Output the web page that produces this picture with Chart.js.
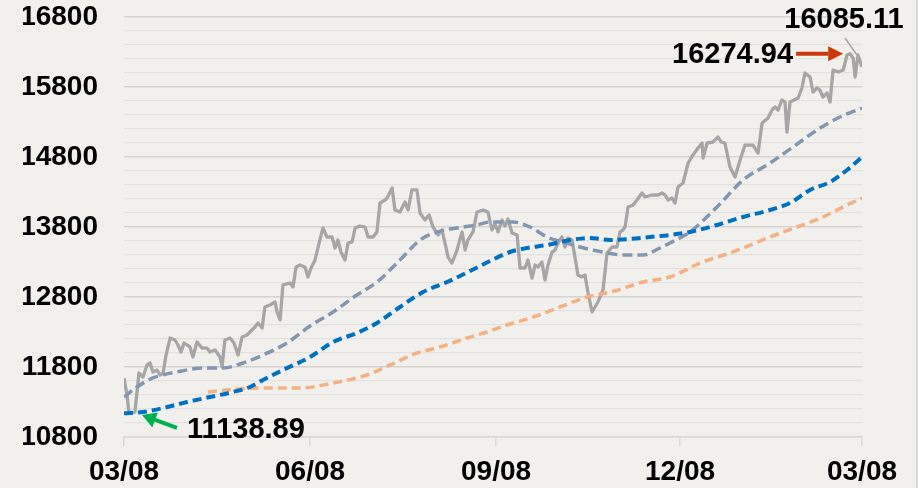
<!DOCTYPE html>
<html>
<head>
<meta charset="utf-8">
<script src="https://cdn.jsdelivr.net/npm/chart.js@4"></script>
<style>
html, body { margin: 0; padding: 0; background: #f2f0ed; }
#wrap { width: 916px; height: 488px; border-right: 2px solid #d9d9d9; }
</style>
</head>
<body>
<div id="wrap"><canvas id="chart" width="916" height="488"></canvas></div>
<script>
// x is calendar days from the first 03/08
var tickDays = [0, 92, 184, 275, 365];
var tickLabels = ['03/08', '06/08', '09/08', '12/08', '03/08'];

var priceDays = [0,1.5,2.5,5.4,7.4,9.4,11.4,12.9,14.3,16.3,17.8,19.3,20.8,22.8,25.2,26.7,28.2,29.7,32.6,34.1,
  36.1,38.6,41,42.5,45,47.5,48.5,49.9,52.4,54.4,56.4,58.4,60.8,62.3,64.8,66.3,68.3,69.7,72.2,74.7,
  75.7,77.2,78.6,82.1,83.6,85.1,87,89.5,91,92.5,94.5,96,98.4,100.4,102.9,104.4,105.8,107.3,109.3,110.8,
  112.8,114.3,116.7,119.2,120.7,123.2,125.1,126.6,129.1,130.1,132.6,134,136.5,139,140.5,142.4,144.9,146.4,148.9,150.9,
  152.8,155.3,157.3,160.3,162.2,164.7,167.2,168.7,170.1,172.6,174.6,177.6,180,182,183.5,185,187,188.4,189.9,191.9,
  194.4,195.9,198.3,199.8,201.8,203.3,204.8,206.7,208.2,209.7,211.7,213.2,214.7,216.6,218.1,219.6,221.6,223.1,224.5,226.5,
  228,229.5,231.5,234.4,236.9,238.9,241.4,243.8,245.3,246.8,247.8,249.3,251.8,253.7,256.2,257.7,261.1,264.1,266.1,267.6,
  269.1,271,272.5,274,276.5,279,281.4,283.9,285.9,286.4,288.4,291.3,293.8,295.3,297.2,299.7,302.2,304.7,307.1,311.1,
  313.6,315.6,318.5,320.5,322,323.5,325.4,326.9,327.9,329.4,331.4,333.4,335.3,336.8,339.3,340.8,342.8,344.2,345.7,347.7,
  349.2,350.7,353.2,355.7,357.6,359.1,360.6,361.6,363,365];
var priceVals = [11643,11400,11139,11157,11714,11657,11829,11857,11729,11757,11686,11714,11971,12214,12186,12114,12014,12143,12086,11943,
  12157,12071,12071,12014,12043,11943,11800,12186,12214,12143,11971,12229,12257,12300,12371,12429,12357,12657,12686,12729,
  12586,12471,12971,13000,12943,13229,13257,13229,13086,13214,13329,13514,13786,13657,13657,13500,13614,13443,13329,13571,
  13586,13786,13814,13800,13657,13657,13729,14143,14186,14214,14357,14043,14014,14157,14043,14329,14329,14000,13900,13971,
  13800,13686,13757,13371,13286,13471,13729,13471,13614,13729,14014,14043,14014,13757,13843,13729,13900,13814,13914,13714,
  13686,13214,13214,13329,13071,13257,13229,13300,13043,13257,13443,13471,13571,13657,13514,13643,13614,13357,13114,13086,
  13114,12857,12586,12729,12900,13429,13514,13514,13729,13757,13800,14086,14114,14186,14286,14229,14257,14257,14286,14257,
  14186,14214,14143,14371,14429,14714,14829,14929,15000,14786,15000,15014,15086,15014,15000,14657,14514,14757,14971,14971,
  14857,15286,15357,15471,15514,15471,15614,15586,15157,15586,15614,15643,15786,16000,15943,15729,15786,15757,15657,15714,
  15586,16043,16014,16043,16257,16274.94,16214,15943,16257,16085.11];

var ma50Days = [0,6.4,14.3,26.2,39.1,49,58.9,68.7,80.6,92,103.4,115.2,125.1,136.5,146.4,154.8,164.7,174.6,181,192.4,
  200.8,209.2,217.1,225.5,236.9,246.8,256.7,265.1,270,279.9,293.3,306.2,319.5,330.9,342.8,354.1,365];
var ma50Vals = [11371,11514,11643,11729,11786,11786,11857,11971,12143,12386,12586,12829,13014,13329,13614,13729,13786,13829,13871,13871,
  13800,13657,13586,13514,13443,13400,13400,13500,13571,13729,14086,14471,14714,14943,15186,15371,15500];

var ma100Days = [0,9.4,19.3,31.2,42.5,53.9,62.3,68.7,78.6,92,103.4,115.2,125.1,136.5,147.9,159.8,171.1,181,190.9,199.3,
  209.2,220.6,230.5,240.4,250.3,260.2,270,279.9,293.3,306.2,319.5,329.4,339.3,349.2,357.6,365];
var ma100Vals = [11139,11157,11214,11300,11371,11443,11514,11614,11757,11943,12157,12286,12429,12657,12871,13014,13171,13314,13443,13500,
  13543,13614,13643,13614,13629,13657,13686,13729,13829,13943,14043,14143,14329,14443,14614,14800];

var ma200Days = [41.5,55.9,67.3,87,103.4,120.2,131.6,144.9,156.3,169.6,179.5,189.4,202.3,215.6,229,242.8,256.7,270,284.9,301.2,
  319.5,332.9,345.7,357.6,365];
var ma200Vals = [11443,11486,11500,11500,11571,11686,11829,12000,12086,12214,12300,12400,12514,12657,12800,12886,13014,13086,13286,13443,
  13657,13800,13943,14114,14214];

var noteText = ['16085.11', '16274.94', '11138.89'];

var fonts = "'Liberation Sans', Arial, sans-serif";

function toPoints(days, vals) {
  return days.map(function (d, i) { return { x: d, y: vals[i] }; });
}

function arrow(c, x1, y1, x2, y2, color, w, headLen, headHalf) {
  var a = Math.atan2(y2 - y1, x2 - x1);
  var bx = x2 - Math.cos(a) * headLen, by = y2 - Math.sin(a) * headLen;
  c.strokeStyle = color; c.fillStyle = color; c.lineWidth = w;
  c.beginPath(); c.moveTo(x1, y1); c.lineTo(bx, by); c.stroke();
  if (headLen > 0) {
    c.beginPath();
    c.moveTo(x2, y2);
    c.lineTo(bx + Math.sin(a) * headHalf, by - Math.cos(a) * headHalf);
    c.lineTo(bx - Math.sin(a) * headHalf, by + Math.cos(a) * headHalf);
    c.closePath(); c.fill();
  }
}

var notes = {
  id: 'notes',
  afterDatasetsDraw: function (chart) {
    var c = chart.ctx, x = chart.scales.x, y = chart.scales.y;
    var px = function (d) { return x.getPixelForValue(d); };
    var py = function (v) { return y.getPixelForValue(v); };
    c.save();
    c.font = 'bold 29px ' + fonts;
    c.textBaseline = 'alphabetic';

    c.fillStyle = '#000';
    c.textAlign = 'center';
    c.fillText(noteText[0], px(356.1), py(16643));
    arrow(c, px(356.6), py(16500), px(362.5), py(16257), '#a6a6a6', 1.5, 0, 0);

    c.fillStyle = '#000';
    c.textAlign = 'right';
    c.fillText(noteText[1], px(330.9), py(16143));
    arrow(c, px(332.4), py(16275), px(355.7), py(16275), '#c9390c', 4, 15, 7.5);

    c.fillStyle = '#000';
    c.textAlign = 'left';
    c.fillText(noteText[2], px(31.2), py(10786));
    arrow(c, px(26.2), py(10929), px(8.9), py(11114), '#00b050', 4, 14, 8);
    c.restore();
  }
};

var ctx = document.getElementById('chart').getContext('2d');
new Chart(ctx, {
  type: 'line',
  data: {
    datasets: [
      { label: 'MA100', data: toPoints(ma100Days, ma100Vals), borderColor: '#0070c0', borderWidth: 4,
        borderDash: [9, 5], cubicInterpolationMode: 'monotone', pointRadius: 0, fill: false },
      { label: 'MA50', data: toPoints(ma50Days, ma50Vals), borderColor: '#8497b0', borderWidth: 3.5,
        borderDash: [10, 5], cubicInterpolationMode: 'monotone', pointRadius: 0, fill: false },
      { label: 'MA200', data: toPoints(ma200Days, ma200Vals), borderColor: '#f4b183', borderWidth: 3.5,
        borderDash: [9, 5], cubicInterpolationMode: 'monotone', pointRadius: 0, fill: false },
      { label: 'Close', data: toPoints(priceDays, priceVals), borderColor: '#a6a6a6', borderWidth: 3.3,
        tension: 0, pointRadius: 0, fill: false, borderJoinStyle: 'round' }
    ]
  },
  options: {
    responsive: false,
    animation: false,
    layout: { padding: { left: 23, right: 54, top: 17, bottom: 0 } },
    plugins: { legend: { display: false }, tooltip: { enabled: false } },
    scales: {
      x: {
        type: 'linear', min: 0, max: 365,
        afterBuildTicks: function (axis) {
          axis.ticks = tickDays.map(function (d) { return { value: d }; });
        },
        afterFit: function (axis) {
          axis.height = 51;
          axis.paddingLeft = 0; axis.paddingRight = 0;
        },
        ticks: {
          autoSkip: false, maxRotation: 0, padding: 9, color: '#000',
          font: { family: fonts, size: 28, weight: 'bold' },
          callback: function (v, i) { return tickLabels[i]; }
        },
        grid: { drawOnChartArea: false, drawTicks: true, tickLength: 9, color: '#d9d9d9', lineWidth: 1.5 },
        border: { display: true, color: '#d9d9d9', width: 1.5 }
      },
      y: {
        min: 10800, max: 16800,
        afterFit: function (axis) {
          axis.width = 101;
          axis.paddingTop = 0; axis.paddingBottom = 0;
        },
        ticks: {
          stepSize: 200, autoSkip: false, padding: 26, color: '#000',
          font: { family: fonts, size: 28, weight: 'bold' },
          callback: function (v) { return (v - 10800) % 1000 === 0 ? String(v) : ''; }
        },
        grid: {
          drawTicks: false,
          color: function (c) { return (c.tick.value - 10800) % 1000 === 0 ? '#d6d4d1' : '#e4e2df'; },
          lineWidth: function (c) { return (c.tick.value - 10800) % 1000 === 0 ? 1.6 : 1.3; }
        },
        border: { display: false }
      }
    }
  },
  plugins: [notes]
});
</script>
</body>
</html>
